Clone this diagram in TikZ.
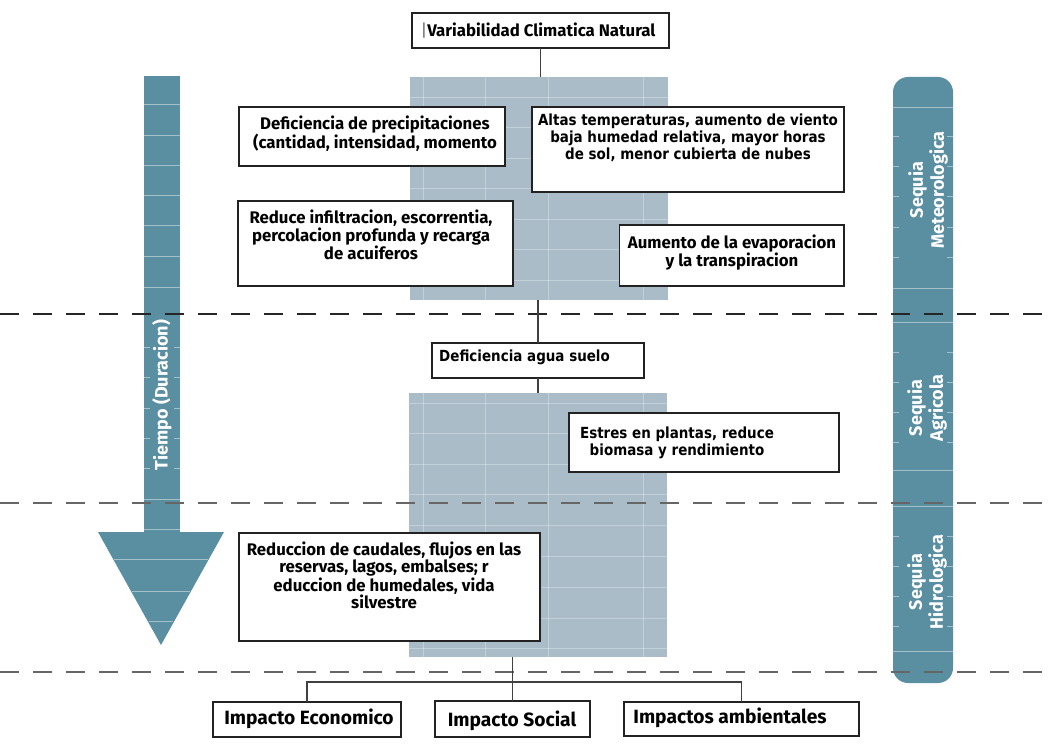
\documentclass[tikz,border=0pt]{standalone}
\usepackage{fontspec}
\setmainfont{Fira Sans}
\newfontfamily\dvs[FakeStretch=0.88]{DejaVu Sans}
\newfontfamily\fira{Fira Sans}
\definecolor{tealc}{HTML}{5A8EA1}
\definecolor{panelc}{HTML}{A9BCC8}
\definecolor{boxline}{HTML}{222222}
\tikzset{
  box/.style={draw=boxline, line width=1.4pt, fill=white, inner sep=0pt, outer sep=0pt, rectangle},
  panel/.style={fill=panelc, draw=none, inner sep=0pt, outer sep=0pt, rectangle},
  ftxt/.style={font=\fira\bfseries\fontsize{16.8}{17.2}\selectfont, align=center, inner sep=0pt, text=black},
  dtxt/.style={font=\dvs\bfseries\fontsize{15.3}{17}\selectfont, align=center, inner sep=0pt, text=black},
  itxt/.style={font=\fira\bfseries\fontsize{19.2}{20}\selectfont, inner sep=0pt, text=black},
  rtxt/.style={font=\fira\bfseries\fontsize{18}{21}\selectfont, align=center, inner sep=0pt, text=white, rotate=90},
  conn/.style={draw=black!75, line width=1.3pt},
  gridl/.style={draw=white, opacity=0.3, line width=0.9pt},
  barl/.style={draw=white, opacity=0.45, line width=1pt},
  sepline/.style={line width=1.3pt, dash pattern=on 19pt off 14pt},
}
\begin{document}
\begin{tikzpicture}[x=1pt,y=-1pt]
\useasboundingbox (0,0) rectangle (1055,746);
\fill[white] (0,0) rectangle (1055,746);

% shaded panels
\node[panel, minimum width=258pt, minimum height=223pt] (p1) at (539,188.5) {};
\node[panel, minimum width=258pt, minimum height=264pt] (p2) at (538,525) {};
\foreach \x in {423,485,548,643} {
  \draw[gridl] (\x,77) -- (\x,300);
  \draw[gridl] (\x,393) -- (\x,657);
}
\foreach \y in {97,127,158,188,219,249,280} \draw[gridl] (410,\y) -- (668,\y);
\foreach \y in {403,433,464,494,525,556,587,618,648} \draw[gridl] (409,\y) -- (667,\y);

% time arrow
\fill[tealc] (144,76) rectangle (180,532);
\fill[tealc] (98,532) -- (224,532) -- (161,645) -- cycle;
\foreach \y in {105,136,166,196,226,257,287,499,529} \draw[barl] (144,\y) -- (180,\y);
\foreach \y in {347,377,408,438,468} {\draw[barl] (144,\y) -- ++(6,0); \draw[barl] (180,\y) -- ++(-6,0);}
\draw[barl] (114,559) -- (208,559);
\draw[barl] (132,591) -- (190,591);
\draw[barl] (149,621) -- (173,621);
\node[rtxt] (tiempo) at (162,395) {Tiempo (Duracion)};

% right bar
\fill[tealc, rounded corners=15pt] (893,77) rectangle (953,683);
\foreach \y in {108,288,322,470,506,651} \draw[barl] (893,\y) -- (953,\y);
\foreach \y in {137,167,197,228,258,352,382,412,442,536,566,596,626} {\draw[barl] (893,\y) -- ++(6,0); \draw[barl] (953,\y) -- ++(-6,0);}
\node[rtxt] (smet) at (928,190) {Sequia\\Meteorologica};
\node[rtxt] (sagr) at (927,408) {Sequia\\Agricola};
\node[rtxt] (shid) at (927,582) {Sequia\\Hidrologica};

% dashed separators
\draw[sepline, draw=black!85] (0,314) -- (1055,314);
\draw[sepline, draw=black!60] (0,503) -- (1055,503);
\draw[sepline, draw=black!60] (0,672) -- (1055,672);

% boxes
\node[box, minimum width=257pt, minimum height=35pt] (top) at (540.5,30.5) {};
\node[box, minimum width=266pt, minimum height=59pt] (defprec) at (372,136.5) {};
\node[box, minimum width=312pt, minimum height=85pt] (altas) at (688,149.5) {};
\node[box, minimum width=275pt, minimum height=85pt] (reduce) at (375.5,243.5) {};
\node[box, minimum width=224.5pt, minimum height=61pt] (aumento) at (731.75,255.5) {};
\node[box, minimum width=212pt, minimum height=35pt] (agua) at (538,360.5) {};
\node[box, minimum width=270pt, minimum height=59pt] (estres) at (704,442.5) {};
\node[box, minimum width=301pt, minimum height=108pt] (caudales) at (389.5,587) {};
\node[box, minimum width=188pt, minimum height=35pt] (econ) at (307,719.5) {};
\node[box, minimum width=155pt, minimum height=36pt] (social) at (512.5,719) {};
\node[box, minimum width=235pt, minimum height=34pt] (ambient) at (741.5,719) {};

% texts
\node[ftxt] (ttop) at (538,30.5) {{\mdseries\textcolor{black!60}{|}}Variabilidad Climatica Natural};
\node[ftxt] (tdefprec) at (375,133.5) {Deficiencia de precipitaciones\\(cantidad, intensidad, momento};
\node[dtxt] (taltas) at (688,138) {Altas temperaturas, aumento de viento\\baja humedad relativa, mayor horas\\de sol, menor cubierta de nubes};
\node[ftxt] (treduce) at (371,235) {Reduce infiltracion, escorrentia,\\percolacion profunda y recarga\\de acuiferos};
\node[ftxt] (taumento) at (732,252.5) {Aumento de la evaporacion\\y la transpiracion};
\node[dtxt, anchor=west] (tagua) at (439,357) {Deficiencia agua suelo};
\node[dtxt] (testres) at (677,442.5) {Estres en plantas, reduce\\biomasa y rendimiento};
\node[ftxt] (tcaudales) at (384,575.5) {Reduccion de caudales, flujos en las\\reservas, lagos, embalses; r\\educcion de humedales, vida\\silvestre};
\node[itxt] (tecon) at (309,719) {Impacto Economico};
\node[itxt] (tsocial) at (512,721) {Impacto Social};
\node[itxt] (tambient) at (730,718) {Impactos ambientales};

% connectors
\draw[conn] (top.south) -- (top.south |- p1.north);
\draw[conn] (agua.north) -- (agua.north |- p1.south);
\draw[conn] (agua.south) -- (agua.south |- p2.north);
\draw[conn] (p2.south -| social.north) -- (social.north);
\draw[conn] (econ.north) -- ++(0,-20) -| (ambient.north);
\end{tikzpicture}
\end{document}
